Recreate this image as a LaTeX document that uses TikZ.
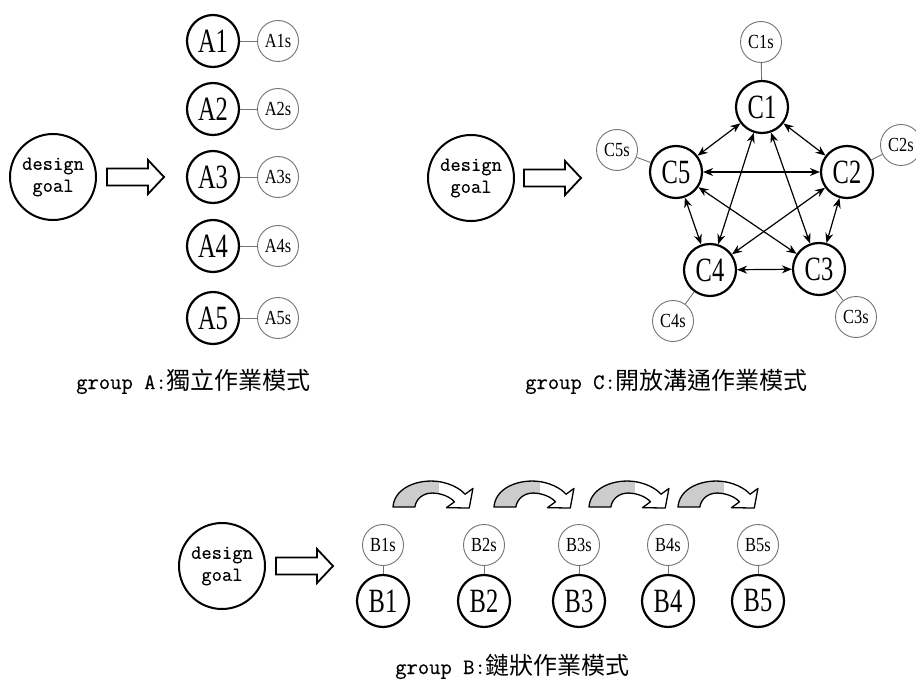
\documentclass[tikz,border=0pt]{standalone}
\usepackage{fontspec}
\newfontfamily\cjk{Noto Sans CJK TC}
\newfontfamily\serf{Liberation Serif}
\newfontfamily\monof[FakeBold=0.4]{Latin Modern Mono}
\usetikzlibrary{arrows.meta,calc}
\newcommand{\biglab}[1]{\scalebox{0.72}[1]{#1}}
\newcommand{\smlab}[1]{\scalebox{0.82}[1]{#1}}
\newcommand{\curvpath}{(0,0) .. controls (1,-17) and (17,-26) .. (33,-26) .. controls (48,-26) and (59,-18) .. (62.6,-12.8) -- (69.5,-18.6) -- (66.3,1) -- (46.5,0.6) -- (53.4,-5.2) .. controls (50,-10) and (42,-14) .. (34,-14) .. controls (26,-14) and (20,-8) .. (19,0) -- cycle}
\begin{document}
\begin{tikzpicture}[x=1pt,y=-1pt,
  mainc/.style={circle, draw=black, line width=2.2pt, minimum size=52pt, inner sep=0pt, font=\serf\fontsize{34}{34}\selectfont},
  subc/.style={circle, draw=black!55, line width=0.9pt, minimum size=41pt, inner sep=0pt, font=\serf\fontsize{20}{20}\selectfont},
  goal/.style={circle, draw=black, line width=2pt, minimum size=86pt, inner sep=0pt, align=center, font=\monof\fontsize{20}{22}\selectfont},
  link/.style={draw=black!55, line width=0.9pt},
  dbl/.style={line width=1.2pt, {Stealth[length=10pt,width=8pt]}-{Stealth[length=10pt,width=8pt]}},
  capt/.style={anchor=base west, inner sep=0pt, font=\monof\fontsize{22}{22}\selectfont},
  blockarrow/.pic={\draw[line width=1.8pt, fill=white, line join=miter] (0,-8.5) -- (41,-8.5) -- (41,-17) -- (57,0) -- (41,17) -- (41,8.5) -- (0,8.5) -- cycle;},
  curvarrow/.pic={
    \fill[gray!40] \curvpath;
    \begin{scope}
      \clip (40,-40) rectangle (90,10);
      \fill[white] \curvpath;
    \end{scope}
    \draw[line width=1.3pt, line join=round] \curvpath;
  }
]
\useasboundingbox (0,0) rectangle (916,682);

% ---------- group A ----------
\node[goal] (dA) at (53,177) {design\\goal};
\pic at ($(dA.east)+(10,0)$) {blockarrow};
\foreach \i/\y in {1/41,2/109,3/177,4/246,5/318} {
  \node[mainc] (A\i) at (213,\y) {\biglab{A\i}};
  \node[subc] (As\i) at (278,\y) {\smlab{A\i s}};
  \draw[link] (A\i) -- (As\i);
}
\node[capt] (capA) at (76,389) {group A:{\cjk\fontsize{24}{24}\selectfont 獨立作業模式}};

% ---------- group C ----------
\node[goal] (dC) at (471,178) {design\\goal};
\pic at ($(dC.east)+(9,0)$) {blockarrow};
\node[mainc] (C1) at (762,107) {\biglab{C1}};
\node[mainc] (C2) at (847,172) {\biglab{C2}};
\node[mainc] (C3) at (819,269) {\biglab{C3}};
\node[mainc] (C4) at (710,270) {\biglab{C4}};
\node[mainc] (C5) at (676,172) {\biglab{C5}};
\node[subc] (Cs1) at (761,42) {\smlab{C1s}};
\node[subc] (Cs2) at (901,145) {\smlab{C2s}};
\node[subc] (Cs3) at (856,317) {\smlab{C3s}};
\node[subc] (Cs4) at (673,321) {\smlab{C4s}};
\node[subc] (Cs5) at (617,150) {\smlab{C5s}};
\foreach \i in {1,...,5} { \draw[link] (C\i) -- (Cs\i); }
\foreach \a/\b in {1/2,1/3,1/4,1/5,2/3,2/4,2/5,3/4,3/5,4/5} { \draw[dbl] (C\a) -- (C\b); }
\node[capt] (capC) at (525,389) {group C:{\cjk\fontsize{24}{24}\selectfont 開放溝通作業模式}};

% ---------- group B ----------
\node[goal] (dB) at (222,566) {design\\goal};
\pic at ($(dB.east)+(10,0)$) {blockarrow};
\foreach \i/\x in {1/383,2/484,3/579,4/668,5/758} {
  \node[mainc] (B\i) at (\x,601) {\biglab{B\i}};
  \node[subc] (Bs\i) at (\x,545) {\smlab{B\i s}};
  \draw[link] (Bs\i) -- (B\i);
}
\foreach \i in {1,...,4} {
  \pic[xscale=1.15] at ($(Bs\i.north)+(10,-17)$) {curvarrow};
}
\node[capt] (capB) at (395,674) {group B:{\cjk\fontsize{24}{24}\selectfont 鏈狀作業模式}};
\end{tikzpicture}
\end{document}
